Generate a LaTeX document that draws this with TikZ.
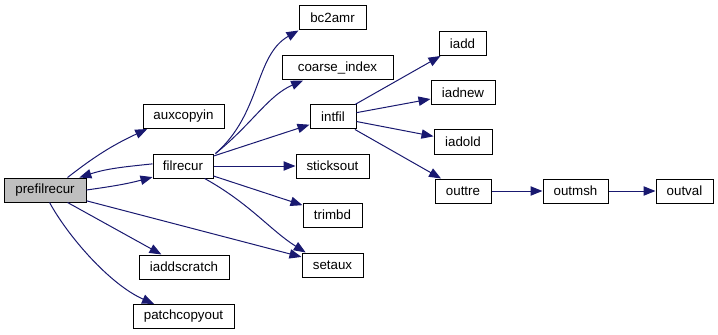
\documentclass[tikz,border=0pt]{standalone}
\usepackage{fontspec}
\setmainfont{Liberation Sans}
\usetikzlibrary{arrows.meta}
\definecolor{edgeblue}{HTML}{191970}
\definecolor{rootgray}{HTML}{BFBFBF}

\begin{document}
\begin{tikzpicture}[x=0.75pt,y=-0.75pt,
    func/.style={draw=black, line width=0.75pt, fill=white, minimum height=18pt,
      inner sep=0pt, font=\fontsize{10}{12}\selectfont},
    root/.style={func, fill=rootgray},
    call/.style={draw=edgeblue, line width=0.75pt, -{Triangle[length=9pt,width=7pt]}}]
  \useasboundingbox (0,0) rectangle (718,335);

  \node[root, minimum width=61.5pt]  (prefilrecur)  at (45,190)    {prefilrecur};
  \node[func, minimum width=60.75pt] (auxcopyin)    at (183.5,116.5) {auxcopyin};
  \node[func, minimum width=45pt]    (filrecur)     at (183,166)   {filrecur};
  \node[func, minimum width=67.5pt]  (iaddscratch)  at (184,267)   {iaddscratch};
  \node[func, minimum width=75.75pt] (patchcopyout) at (183.5,316.5) {patchcopyout};
  \node[func, minimum width=50.25pt] (bc2amr)       at (332.5,18)  {bc2amr};
  \node[func, minimum width=83.25pt] (coarse_index) at (337.5,68)  {coarse\_index};
  \node[func, minimum width=34.5pt]  (intfil)       at (333,117)   {intfil};
  \node[func, minimum width=54.75pt] (sticksout)    at (332.5,166) {sticksout};
  \node[func, minimum width=44.25pt] (trimbd)       at (332.5,215) {trimbd};
  \node[func, minimum width=45.75pt] (setaux)       at (332.5,265) {setaux};
  \node[func, minimum width=35.25pt] (iadd)         at (462.5,43.5) {iadd};
  \node[func, minimum width=48pt]    (iadnew)       at (463,93)    {iadnew};
  \node[func, minimum width=43.5pt]  (iadold)       at (463,142)   {iadold};
  \node[func, minimum width=42pt]    (outtre)       at (463,191)   {outtre};
  \node[func, minimum width=48.75pt] (outmsh)       at (575.5,191) {outmsh};
  \node[func, minimum width=42.75pt] (outval)       at (684.5,191) {outval};

  \draw[call] (prefilrecur.29) to[out=38,in=205] (auxcopyin.199);
  \draw[call] (filrecur.176) to[out=186,in=18] (prefilrecur.20);
  \draw[call] (prefilrecur.east) to[out=8,in=195] (filrecur.200);
  \draw[call] (prefilrecur) -- (iaddscratch);
  \draw[call] (prefilrecur.-70) .. controls +(18,33) and +(-45,-20) .. (patchcopyout.157);
  \draw[call] (prefilrecur) -- (setaux);

  \draw[call] ([xshift=1.5pt]filrecur.north east) .. controls +(46,-40) and +(-44,25) .. (bc2amr.south west);
  \draw[call] ([xshift=1.5pt]filrecur.north east) .. controls +(37,-30) and +(-35,15) .. (coarse_index.200);
  \draw[call] (filrecur) -- (intfil);
  \draw[call] (filrecur) -- (sticksout);
  \draw[call] (filrecur) -- (trimbd);
  \draw[call] (filrecur.-30) .. controls +(45,25) and +(-35,-22) .. (setaux.155);

  \draw[call] (intfil) -- (iadd);
  \draw[call] (intfil) -- (iadnew);
  \draw[call] (intfil) -- (iadold);
  \draw[call] (intfil) -- (outtre);
  \draw[call] (outtre) -- (outmsh);
  \draw[call] (outmsh) -- (outval);
\end{tikzpicture}
\end{document}
